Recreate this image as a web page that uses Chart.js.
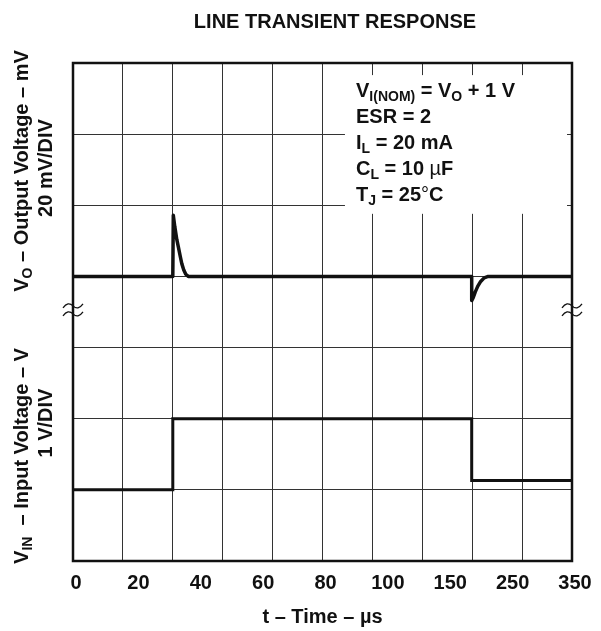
<!DOCTYPE html>
<html>
<head>
<meta charset="utf-8">
<script src="https://cdn.jsdelivr.net/npm/chart.js@4.4.0/dist/chart.umd.min.js"></script>
<style>
  html, body { margin: 0; padding: 0; background: #fff; }
</style>
</head>
<body>
<canvas id="chart" width="601" height="631"></canvas>
<script>
// x in scope divisions (10 across), y in divisions (7 up from the bottom)
const timeLabels = ['0', '20', '40', '60', '80', '100', '150', '250', '350'];

const voX = [0, 2.0, 2.01, 2.04, 2.08, 2.11, 2.15, 2.18, 2.22, 2.26, 2.31, 7.99, 7.99, 8.02, 8.06, 8.11, 8.17, 8.24, 8.32, 10];
const voY = [4, 4, 4.86, 4.70, 4.52, 4.42, 4.28, 4.18, 4.09, 4.03, 4.0, 4.0, 3.66, 3.70, 3.78, 3.86, 3.93, 3.98, 4.0, 4.0];

const vinX = [0, 2.0, 2.0, 7.99, 7.99, 10];
const vinY = [1, 1, 2, 2, 1.13, 1.13];

const breakAt = 3.53; // where the two traces are split on the y axis

const FAMILY = '"Liberation Sans", Arial, Helvetica, sans-serif';
const INK = '#111';

function font(size, weight) {
  return (weight || 'bold') + ' ' + size + 'px ' + FAMILY;
}

// runs: [text, size, dy, weight]
function drawRuns(ctx, runs, x, y, center) {
  let total = 0;
  runs.forEach(r => { ctx.font = font(r[1], r[3]); total += ctx.measureText(r[0]).width; });
  let cx = center ? x - total / 2 : x;
  runs.forEach(r => {
    ctx.font = font(r[1], r[3]);
    ctx.fillText(r[0], cx, y + (r[2] || 0));
    cx += ctx.measureText(r[0]).width;
  });
}

const noteLines = [
  [['V', 20], ['I(NOM)', 14, 4], [' = V', 20], ['O', 14, 4], [' + 1 V', 20]],
  [['ESR = 2', 20]],
  [['I', 20], ['L', 14, 4], [' = 20 mA', 20]],
  [['C', 20], ['L', 14, 4], [' = 10 ', 20], ['\u00b5', 20, 0, 'normal'], ['F', 20]],
  [['T', 20], ['J', 14, 4], [' = 25', 20], ['\u00b0', 20, 0, 'normal'], ['C', 20]]
];

const yTitles = [
  { x: 28, y: 171, runs: [['V', 20], ['O', 14, 4], [' \u2013 Output Voltage \u2013 mV', 20]] },
  { x: 52, y: 168, runs: [['20 mV/DIV', 20]] },
  { x: 28, y: 456, runs: [['V', 20], ['IN', 14, 4], ['  \u2013 Input Voltage \u2013 V', 20]] },
  { x: 52, y: 423, runs: [['1 V/DIV', 20]] }
];

const decor = {
  id: 'decor',
  beforeDatasetsDraw(chart) {
    // white box behind the conditions text, hides the grid there
    const { ctx, scales: { x, y } } = chart;
    const l = x.getPixelForValue(5.45), r = x.getPixelForValue(9.9);
    const t = y.getPixelForValue(6.83), b = y.getPixelForValue(4.88);
    ctx.save();
    ctx.fillStyle = '#fff';
    ctx.fillRect(l, t, r - l, b - t);
    ctx.restore();
  },
  afterDraw(chart) {
    const { ctx, chartArea: ca, scales: { x, y } } = chart;
    ctx.save();

    // frame
    ctx.strokeStyle = INK;
    ctx.lineWidth = 2.5;
    ctx.strokeRect(ca.left, ca.top, ca.right - ca.left, ca.bottom - ca.top);

    // axis break marks
    ctx.lineWidth = 1.3;
    const by = y.getPixelForValue(breakAt);
    [ca.left, ca.right].forEach(bx => {
      [-4, 4].forEach(off => {
        const yy = by + off;
        ctx.beginPath();
        ctx.moveTo(bx - 10, yy + 2);
        ctx.quadraticCurveTo(bx - 5, yy - 5, bx, yy);
        ctx.quadraticCurveTo(bx + 5, yy + 5, bx + 10, yy - 2);
        ctx.stroke();
      });
    });

    ctx.fillStyle = INK;
    ctx.textAlign = 'left';
    ctx.textBaseline = 'alphabetic';

    // conditions
    noteLines.forEach((runs, i) => drawRuns(ctx, runs, 356, 97 + i * 26, false));

    // title
    ctx.font = font(20);
    ctx.textAlign = 'center';
    ctx.fillText('LINE TRANSIENT RESPONSE', 335, 27.5);
    ctx.textAlign = 'left';

    // rotated y titles
    yTitles.forEach(t => {
      ctx.save();
      ctx.translate(t.x, t.y);
      ctx.rotate(-Math.PI / 2);
      drawRuns(ctx, t.runs, 0, 0, true);
      ctx.restore();
    });

    ctx.restore();
  }
};

const ctx = document.getElementById('chart').getContext('2d');

new Chart(ctx, {
  type: 'line',
  data: {
    datasets: [
      {
        label: 'VO',
        data: voX.map((v, i) => ({ x: v, y: voY[i] })),
        xAxisID: 'x',
        yAxisID: 'y',
        borderColor: INK,
        borderWidth: 3.5,
        pointRadius: 0,
        tension: 0,
        borderJoinStyle: 'round'
      },
      {
        label: 'VIN',
        data: vinX.map((v, i) => ({ x: v, y: vinY[i] })),
        xAxisID: 'x',
        yAxisID: 'y',
        borderColor: INK,
        borderWidth: 3,
        pointRadius: 0,
        tension: 0
      }
    ]
  },
  options: {
    responsive: false,
    animation: false,
    layout: { padding: { left: 73, right: 29, top: 63, bottom: 0 } },
    plugins: {
      legend: { display: false },
      title: { display: false },
      tooltip: { enabled: false }
    },
    scales: {
      x: {
        type: 'linear',
        position: 'bottom',
        min: 0,
        max: 10,
        ticks: { display: false, stepSize: 1 },
        grid: { color: '#333', lineWidth: 1, drawTicks: false },
        border: { display: false },
        afterFit: s => { s.height = 0; }
      },
      t: {
        type: 'linear',
        position: 'bottom',
        min: 0,
        max: 8,
        grid: { display: false, drawTicks: false },
        border: { display: false },
        ticks: {
          stepSize: 1,
          autoSkip: false,
          maxRotation: 0,
          padding: 10,
          labelOffset: 3,
          color: INK,
          font: { family: FAMILY, size: 20, weight: 'bold' },
          callback: (v, i) => timeLabels[i]
        },
        title: {
          display: true,
          text: 't \u2013 Time \u2013 \u00b5s',
          color: INK,
          font: { family: FAMILY, size: 20, weight: 'bold' },
          padding: { top: 0, bottom: 2 }
        },
        afterFit: s => { s.height = 70; }
      },
      y: {
        type: 'linear',
        position: 'left',
        min: 0,
        max: 7,
        ticks: { display: false, stepSize: 1 },
        grid: { color: '#333', lineWidth: 1, drawTicks: false },
        border: { display: false },
        afterFit: s => { s.width = 0; }
      }
    }
  },
  plugins: [decor]
});
</script>
</body>
</html>
